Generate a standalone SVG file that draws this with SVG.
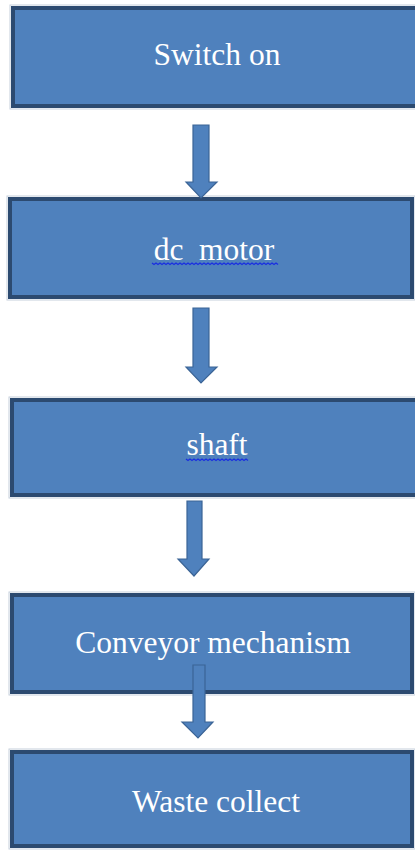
<svg xmlns="http://www.w3.org/2000/svg" width="415" height="850" viewBox="0 0 415 850">
<style>
.box{fill:#4f81bd;stroke:#2c4a70;stroke-width:4}
.halo{fill:none;stroke:#c5cfdc;stroke-width:1}
.lbl{font-family:"Liberation Serif","Times New Roman",serif;font-size:31.5px;fill:#ffffff;text-anchor:middle;white-space:pre}
.arr{fill:#4f81bd;stroke:#3b6496;stroke-width:1.2}
.wave{fill:none;stroke:#1a2fe0;stroke-width:1.3}
</style>
<rect width="415" height="850" fill="#ffffff"/>
<g id="n1">
<rect class="halo" x="10" y="5" width="420" height="104"/>
<rect class="box" x="13" y="8" width="410" height="98"/>
<text class="lbl" x="217" y="65">Switch on</text>
</g>
<g id="n2">
<rect class="halo" x="7" y="196" width="408" height="104"/>
<rect class="box" x="10" y="199" width="402" height="98"/>
<text class="lbl" x="214" y="260">dc  motor</text>
<path class="wave" d="M152 263 l2 1.5 l2 -1.5 l2 1.5 l2 -1.5 l2 1.5 l2 -1.5 l2 1.5 l2 -1.5 l2 1.5 l2 -1.5 l2 1.5 l2 -1.5 l2 1.5 l2 -1.5 l2 1.5 l2 -1.5 l2 1.5 l2 -1.5 l2 1.5 l2 -1.5 l2 1.5 l2 -1.5 l2 1.5 l2 -1.5 l2 1.5 l2 -1.5 l2 1.5 l2 -1.5 l2 1.5 l2 -1.5 l2 1.5 l2 -1.5 l2 1.5 l2 -1.5 l2 1.5 l2 -1.5 l2 1.5 l2 -1.5 l2 1.5 l2 -1.5 l2 1.5 l2 -1.5 l2 1.5 l2 -1.5 l2 1.5 l2 -1.5 l2 1.5 l2 -1.5 l2 1.5 l2 -1.5 l2 1.5 l2 -1.5 l2 1.5 l2 -1.5 l2 1.5 l2 -1.5 l2 1.5 l2 -1.5 l2 1.5 l2 -1.5 l2 1.5 l2 -1.5 l2 1.5"/>
</g>
<g id="n3">
<rect class="halo" x="9" y="397" width="420" height="101"/>
<rect class="box" x="12" y="400" width="410" height="95"/>
<text class="lbl" x="217" y="455">shaft</text>
<path class="wave" d="M186 459 l2 1.5 l2 -1.5 l2 1.5 l2 -1.5 l2 1.5 l2 -1.5 l2 1.5 l2 -1.5 l2 1.5 l2 -1.5 l2 1.5 l2 -1.5 l2 1.5 l2 -1.5 l2 1.5 l2 -1.5 l2 1.5 l2 -1.5 l2 1.5 l2 -1.5 l2 1.5 l2 -1.5 l2 1.5 l2 -1.5 l2 1.5 l2 -1.5 l2 1.5 l2 -1.5 l2 1.5 l2 -1.5 l2 1.5"/>
</g>
<g id="n4">
<rect class="halo" x="9" y="592" width="406" height="103"/>
<rect class="box" x="12" y="595" width="400" height="97"/>
<text class="lbl" x="213" y="653">Conveyor mechanism</text>
</g>
<g id="n5">
<rect class="halo" x="9" y="749" width="406" height="100"/>
<rect class="box" x="12" y="752" width="400" height="94"/>
<text class="lbl" x="216" y="812">Waste collect</text>
</g>
<g id="connectors">
<path class="arr" d="M193 125 H209 V182 H217 L201 198 L186 182 H193 Z"/>
<path class="arr" d="M193 308 H209 V367 H217 L201 383 L186 367 H193 Z"/>
<path class="arr" d="M187 501 H202 V559 H209 L194 576 L178 559 H187 Z"/>
<path class="arr" d="M193 665 H205 V722 H213 L198 738 L182 722 H193 Z"/>
</g>
</svg>
